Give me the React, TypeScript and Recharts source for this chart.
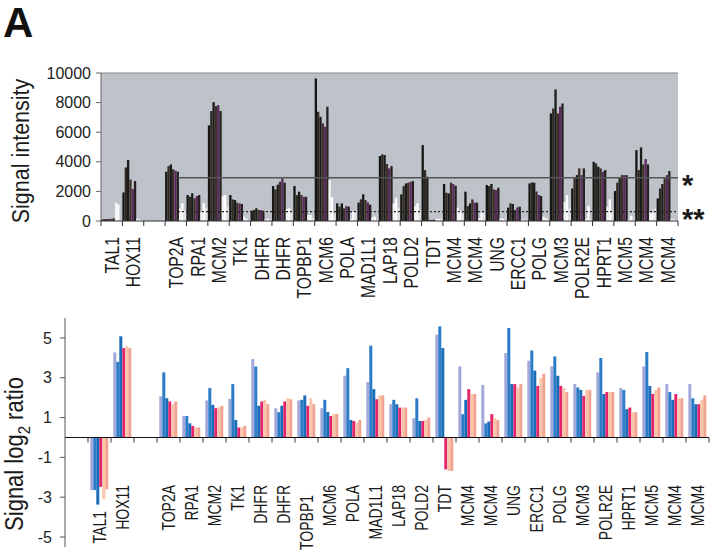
import React from "react";
import { BarChart, Bar, XAxis, YAxis, CartesianGrid, ReferenceLine } from "recharts";

const FONT = '"Liberation Sans", Arial, Helvetica, sans-serif';

// gene order used by both panels (null = empty slot)
const genes: (string | null)[] = [
  "TAL1", "HOX11", null, "TOP2A", "RPA1", "MCM2", "TK1", "DHFR", "DHFR", "TOPBP1", "MCM6",
  "POLA", "MAD1L1", "LAP18", "POLD2", "TDT", "MCM4", "MCM4", "UNG", "ERCC1", "POLG", "MCM3",
  "POLR2E", "HPRT1", "MCM5", "MCM4", "MCM4",
];

// top panel: signal intensity, six dark samples then three white ones
const dark1 = [100, 1930, null, 3330, 1755, 6460, 1755, 700, 2360, 2360, 9630, 1190, 1240, 4390, 1800, 5130, 2500, 1980, 2430, 900, 2540, 7270, 2200, 4000, 2025, 4790, 1530];
const dark2 = [130, 3620, null, 3710, 1640, 7430, 1460, 740, 2140, 1750, 7380, 970, 1460, 4500, 2360, 3440, 1910, 1010, 2360, 1190, 2610, 7600, 2900, 3890, 2590, 3440, 2200];
const dark3 = [120, 4120, null, 3825, 1870, 8030, 1420, 855, 2450, 1980, 7040, 1190, 1800, 4455, 2540, 2990, 1870, 1190, 2500, 1150, 2590, 8890, 3100, 3670, 2900, 4970, 2500];
const dark4 = [130, 2800, null, 3490, 1530, 7760, 1240, 740, 2650, 1750, 6600, 855, 1420, 3850, 2590, 80, 2590, 1460, 2140, 740, 2000, 7270, 3555, 3555, 3100, 3825, 2880];
const dark5 = [150, 2160, null, 3400, 1690, 7830, 1190, 740, 2880, 1640, 6370, 1010, 1260, 3555, 2650, 60, 2500, 1240, 2090, 920, 1755, 7720, 3100, 3330, 3100, 4185, 3100];
const dark6 = [180, 2700, null, 3330, 1755, 7430, 1150, 700, 2590, 1640, 7720, 970, 1100, 3710, 2700, 80, 2385, 1240, 2250, 970, 1690, 7940, 3555, 3440, 3100, 3825, 3375];
const white1 = [1250, 150, null, 850, 600, 1700, 300, 100, 800, 400, 2770, 150, 250, 1190, 1000, 150, 900, 200, 200, 100, 300, 1300, 150, 970, 100, 560, 150];
const white2 = [1120, 100, null, 1200, 1200, 1750, 150, 150, 850, 400, 1600, 600, 300, 1575, 1200, 150, 700, 560, 150, 100, 200, 1750, 1030, 1460, 350, 560, 100];
const white3 = [60, 50, null, 700, 900, 1000, 100, 100, 600, 200, 500, 650, 100, 900, 700, 150, 500, 560, 100, 100, 100, 900, 100, 600, 100, 850, 50];

// threshold lines in the top panel
const upperCut = 2925;
const lowerCut = 630;

// bottom panel: signal log2 ratio, six samples
const ratio1 = [-2.64, 4.27, null, 2.07, 1.08, 1.86, 1.94, 3.94, 1.47, 1.86, 1.47, 3.1, 2.78, 1.67, 0.97, 5.16, 3.57, 2.64, 4.24, 3.85, 3.57, 2.68, 3.27, 2.48, 3.57, 2.68, 2.68];
const ratio2 = [-2.64, 3.8, null, 3.27, 1.08, 2.48, 2.68, 3.57, 1.27, 1.89, 1.89, 3.48, 4.61, 1.89, 1.97, 5.58, 1.17, 0.71, 5.5, 4.37, 4.07, 2.51, 3.99, 2.39, 4.29, 2.28, 1.97];
const ratio3 = [-3.37, 5.08, null, 1.97, 0.71, 1.64, 0.88, 1.59, 1.59, 2.11, 1.28, 0.88, 2.43, 1.67, 0.83, 4.49, 1.89, 0.8, 2.68, 3.36, 3.1, 2.39, 2.18, 1.42, 2.59, 1.89, 1.67];
const ratio4 = [-2.48, 4.49, null, 1.81, 0.58, 1.47, 0.5, 1.81, 1.81, 1.59, 1.08, 0.83, 1.92, 1.5, 0.83, -1.6, 2.43, 1.17, 2.68, 2.59, 2.59, 2.09, 2.28, 1.5, 2.19, 2.18, 1.67];
const ratio5 = [-3.1, 4.58, null, 1.67, 0.5, 1.52, 0.5, 1.89, 1.97, 1.97, 1.17, 0.75, 2.11, 1.5, 0.88, -1.68, 2.18, 0.97, 2.51, 2.98, 2.48, 2.39, 2.28, 1.27, 2.39, 1.97, 1.89];
const ratio6 = [-2.6, 4.49, null, 1.81, 0.5, 1.59, 0.58, 1.67, 1.92, 1.67, 1.18, 0.88, 2.11, 1.5, 1.0, -1.68, 2.18, 0.88, 2.68, 3.2, 2.28, 2.39, 2.28, 1.27, 2.51, 1.97, 2.11];

const topTicks = [0, 2000, 4000, 6000, 8000, 10000];
const bottomTicks = [-5, -3, -1, 1, 3, 5];

const topSeries = [
  { key: "d1", values: dark1, color: "#151515" },
  { key: "d2", values: dark2, color: "#2f2a22" },
  { key: "d3", values: dark3, color: "#1b1b1b" },
  { key: "d4", values: dark4, color: "#3c3029" },
  { key: "d5", values: dark5, color: "#5a2b5c" },
  { key: "d6", values: dark6, color: "#262022" },
  { key: "w1", values: white1, color: "#f3f3f3" },
  { key: "w2", values: white2, color: "#ffffff" },
  { key: "w3", values: white3, color: "#e4e4e4" },
];

const bottomSeries = [
  { key: "r1", values: ratio1, color: "#a2a8d9" },
  { key: "r2", values: ratio2, color: "#2b7cc6" },
  { key: "r3", values: ratio3, color: "#1a6cb7" },
  { key: "r4", values: ratio4, color: "#e2256d" },
  { key: "r5", values: ratio5, color: "#f8c6a6" },
  { key: "r6", values: ratio6, color: "#f1a290" },
];

const topRows = genes.map((g, i) => {
  const row: any = { id: "t" + i, gene: g ?? "" };
  topSeries.forEach((s) => (row[s.key] = s.values[i]));
  return row;
});

// the lower panel has one extra empty slot before TAL1
const bottomRows = [{ id: "b0", gene: "" } as any].concat(
  genes.map((g, i) => {
    const row: any = { id: "b" + (i + 1), gene: g ?? "" };
    bottomSeries.forEach((s) => (row[s.key] = s.values[i]));
    return row;
  })
);

// layout
const W = 712;
const TOP_H = 300;
const TOP_MARGIN = { top: 73, right: 34, bottom: 0, left: 0 };
const TOP_YW = 101;
const TOP_XH = 79;
const TOP_AXIS_Y = TOP_H - TOP_XH;
const TOP_BAND = (W - TOP_MARGIN.right - TOP_YW) / topRows.length;
const TOP_BAR = (TOP_BAND - 0.6) / topSeries.length;

const BOT_TOP = 290;
const BOT_H = 261;
const BOT_MARGIN = { top: 28, right: 3, bottom: 0, left: 0 };
const BOT_YW = 65;
const BOT_XH = 4;
const BOT_DOMAIN = [-5.5, 6];
const BOT_PLOT_H = BOT_H - BOT_MARGIN.top - BOT_XH;
const BOT_ZERO_Y = BOT_MARGIN.top + (BOT_PLOT_H * BOT_DOMAIN[1]) / (BOT_DOMAIN[1] - BOT_DOMAIN[0]);
const BOT_BAND = (W - BOT_MARGIN.right - BOT_YW) / bottomRows.length;
const BOT_LABEL_Y = 195;
const labelDrop: Record<string, number> = { b1: 26, b10: 10 };

const LABEL_SCALE = 1.3;

const topGene: Record<string, string> = {};
topRows.forEach((r) => (topGene[r.id] = r.gene));
const botGene: Record<string, string> = {};
bottomRows.forEach((r) => (botGene[r.id] = r.gene));

function TopTick(props: any) {
  const { x, payload, index } = props;
  const half = TOP_BAND / 2;
  const label = topGene[payload.value];
  return (
    <g>
      <line x1={x - half} x2={x - half} y1={TOP_AXIS_Y} y2={TOP_AXIS_Y + 5} stroke="#333" />
      {index === topRows.length - 1 && (
        <line x1={x + half} x2={x + half} y1={TOP_AXIS_Y} y2={TOP_AXIS_Y + 5} stroke="#333" />
      )}
      {label && (
        <text
          transform={`translate(${x},${TOP_AXIS_Y + 16}) rotate(-90) scale(1,${LABEL_SCALE})`}
          textAnchor="end"
          dy="0.36em"
          fontSize={15.7}
          fontFamily={FONT}
          fill="#1a1a1a"
        >
          {label}
        </text>
      )}
    </g>
  );
}

function BottomTick(props: any) {
  const { x, payload, index } = props;
  const half = BOT_BAND / 2;
  const label = botGene[payload.value];
  const y = BOT_LABEL_Y + (labelDrop[payload.value] ?? 0);
  return (
    <g>
      {index > 0 && <line x1={x - half} x2={x - half} y1={BOT_ZERO_Y} y2={BOT_ZERO_Y + 5} stroke="#333" />}
      {index === bottomRows.length - 1 && (
        <line x1={x + half} x2={x + half} y1={BOT_ZERO_Y} y2={BOT_ZERO_Y + 5} stroke="#333" />
      )}
      {label && (
        <text
          transform={`translate(${x},${y}) rotate(-90) scale(1,${LABEL_SCALE})`}
          textAnchor="end"
          dy="0.36em"
          fontSize={14}
          fontFamily={FONT}
          fill="#1a1a1a"
        >
          {label}
        </text>
      )}
    </g>
  );
}

// threshold line starting at the TOP2A slot, with star marker on the right
function cutShape(stars: string, dashed: boolean) {
  return (p: any) => {
    const start = p.x1 + (p.x2 - p.x1) * (3.6 / topRows.length);
    return (
      <g>
        <line
          x1={start}
          x2={p.x2}
          y1={p.y1}
          y2={p.y2}
          stroke={dashed ? "#222" : "#555"}
          strokeWidth={dashed ? 1.3 : 1.4}
          strokeDasharray={dashed ? "2 2" : undefined}
        />
        <text x={p.x2 + 4} y={p.y1 + 17} fontSize={29} fontWeight="bold" fontFamily={FONT} fill="#1a1a1a">
          {stars}
        </text>
      </g>
    );
  };
}

const tickStyle = { fill: "#222", fontSize: 16, fontFamily: FONT };

export default function App() {
  return (
    <div style={{ position: "absolute", left: 0, top: 0, width: W, height: 551, background: "#fff" }}>
      <div style={{ position: "absolute", left: 0, top: 0 }}>
        <BarChart
          width={W}
          height={TOP_H}
          data={topRows}
          margin={TOP_MARGIN}
          barCategoryGap={0}
          barGap={0}
          barSize={TOP_BAR}
        >
          <CartesianGrid horizontal={false} vertical={false} fill="#bec3c9" />
          <XAxis
            dataKey="id"
            interval={0}
            height={TOP_XH}
            tickLine={false}
            axisLine={{ stroke: "#333" }}
            tick={<TopTick />}
          />
          <YAxis
            width={TOP_YW}
            domain={[0, 10000]}
            ticks={topTicks}
            interval={0}
            tickSize={5}
            tickMargin={5}
            axisLine={{ stroke: "#666" }}
            tickLine={{ stroke: "#666" }}
            tick={tickStyle}
          />
          <ReferenceLine y={10000} stroke="#888" />
          {topSeries.map((s) => (
            <Bar key={s.key} dataKey={s.key} fill={s.color} isAnimationActive={false} />
          ))}
          <ReferenceLine y={upperCut} shape={cutShape("*", false)} />
          <ReferenceLine y={lowerCut} shape={cutShape("**", true)} />
        </BarChart>
      </div>

      <div style={{ position: "absolute", left: 0, top: BOT_TOP }}>
        <BarChart width={W} height={BOT_H} data={bottomRows} margin={BOT_MARGIN} barCategoryGap="10%" barGap={0}>
          <XAxis
            dataKey="id"
            interval={0}
            height={BOT_XH}
            tickLine={false}
            axisLine={false}
            tick={<BottomTick />}
          />
          <YAxis
            width={BOT_YW}
            domain={BOT_DOMAIN}
            ticks={bottomTicks}
            interval={0}
            allowDataOverflow
            tickSize={5}
            tickMargin={8}
            axisLine={{ stroke: "#555" }}
            tickLine={{ stroke: "#555" }}
            tick={tickStyle}
          />
          {bottomSeries.map((s) => (
            <Bar key={s.key} dataKey={s.key} fill={s.color} isAnimationActive={false} />
          ))}
          <ReferenceLine y={0} stroke="#111" strokeWidth={1.2} />
        </BarChart>
      </div>

      <svg width={W} height={551} style={{ position: "absolute", left: 0, top: 0, pointerEvents: "none" }}>
        <text x={3} y={37} fontSize={42} fontWeight="bold" fontFamily={FONT} fill="#111">
          A
        </text>
        <text
          transform="translate(29,151) rotate(-90) scale(1,1.15)"
          textAnchor="middle"
          fontSize={21.5}
          fontFamily={FONT}
          fill="#1a1a1a"
        >
          Signal intensity
        </text>
        <text
          transform="translate(23,454) rotate(-90) scale(1,1.15)"
          textAnchor="middle"
          fontSize={22}
          fontFamily={FONT}
          fill="#1a1a1a"
        >
          Signal log
          <tspan fontSize={15} dy={6}>
            2
          </tspan>
          <tspan dy={-6}> ratio</tspan>
        </text>
      </svg>
    </div>
  );
}
